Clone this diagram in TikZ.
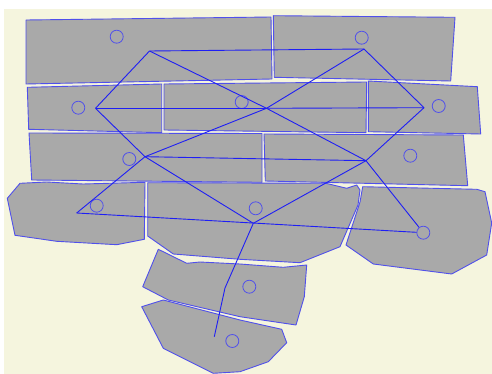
\documentclass[tikz,border=0pt]{standalone}
\usetikzlibrary{calc}
\definecolor{bg}{RGB}{245,245,222}
\definecolor{slab}{RGB}{169,169,169}
\definecolor{edgeblue}{RGB}{80,80,235}
\definecolor{netblue}{RGB}{30,30,245}
\tikzset{
  slabpoly/.style={fill=slab, draw=edgeblue, line width=0.9pt, line join=round},
  marker/.style={circle, draw=edgeblue, line width=0.8pt, minimum size=13pt, inner sep=0pt},
  netline/.style={draw=netblue, line width=0.9pt, line join=round},
}
\begin{document}
\begin{tikzpicture}[x=1pt,y=-1pt]
\useasboundingbox (0,0) rectangle (492,374);
\fill[white] (0,0) rectangle (492,374);
\fill[bg] (4,9) rectangle (492,374);
% slabs
\draw[slabpoly] (26,20) -- (271,17) -- (272,79) -- (26,84) -- cycle;
\draw[slabpoly] (273.3,15.7) -- (455,17.3) -- (450.7,81) -- (274.3,77.3) -- cycle;
\draw[slabpoly] (27.3,87.3) -- (161.7,84) -- (161.7,132.7) -- (28.7,129.3) -- cycle;
\draw[slabpoly] (164,84) -- (366.7,82) -- (366,132.7) -- (164,130) -- cycle;
\draw[slabpoly] (368.3,81) -- (477.3,86.7) -- (480.7,134) -- (368.3,131.7) -- cycle;
\draw[slabpoly] (29,133) -- (262,133.5) -- (262,182.3) -- (31.7,180) -- cycle;
\draw[slabpoly] (264,134) -- (463.3,135) -- (467.7,185.7) -- (265.3,181) -- cycle;
\draw[slabpoly] (7.3,198.3) -- (20,183.3) -- (46.7,182) -- (83,184) -- (145,182.3) -- (144.3,239.3) -- (116.7,244.7) -- (56.7,241.3) -- (15,235.3) -- cycle;
\draw[slabpoly] (147.7,182.7) -- (326,183.3) -- (346.7,188.3) -- (356.7,185) -- (360,190) -- (358,205) -- (340,246.7) -- (300,262.7) -- (240,259.3) -- (173.3,254) -- (147.7,236) -- cycle;
\draw[slabpoly] (362.7,186.7) -- (476.7,189.3) -- (485,191.7) -- (491.7,223) -- (486.7,255) -- (451.7,274) -- (373.3,264) -- (346,245) -- (360,202) -- cycle;
\draw[slabpoly] (158.3,249.3) -- (186.7,263.3) -- (200,262) -- (240,264) -- (283.3,267.3) -- (306.7,265) -- (304.3,296.7) -- (296,325) -- (240,316.7) -- (168.3,300) -- (142.7,286.7) -- cycle;
\draw[slabpoly] (141.7,306.7) -- (163.3,300) -- (240,320) -- (281.7,329.3) -- (286.7,342.7) -- (268.3,361.7) -- (240,371.7) -- (213.3,373.3) -- (163.3,348.3) -- cycle;
% markers
\node[marker] (cA) at (116.7,36.7) {};
\node[marker] (cB) at (361.7,37.7) {};
\node[marker] (cC) at (78.3,107.7) {};
\node[marker] (cD) at (241.7,102) {};
\node[marker] (cE) at (438.7,106) {};
\node[marker] (cF) at (129.3,159) {};
\node[marker] (cG) at (410.3,155.7) {};
\node[marker] (cH) at (96.7,205.7) {};
\node[marker] (cI) at (255.7,208.3) {};
\node[marker] (cJ) at (423.3,232.7) {};
\node[marker] (cK) at (249.3,286.7) {};
\node[marker] (cL) at (232.3,341) {};
% network points
\coordinate (p1) at (149.5,51);
\coordinate (p2) at (364,49);
\coordinate (p3) at (95.5,108.3);
\coordinate (hub) at (266.5,108.3);
\coordinate (p4) at (424,107.7);
\coordinate (p5) at (145,156.7);
\coordinate (p6) at (366,160.7);
\coordinate (p7) at (76.7,213);
\coordinate (p8) at (253.3,223.3);
\coordinate (q1) at (225,288);
\coordinate (p10) at (214.3,336.7);
% network
\draw[netline] (p1) -- (p2);
\draw[netline] (p1) -- (p3);
\draw[netline] (p1) -- (hub);
\draw[netline] (p2) -- (hub);
\draw[netline] (p2) -- (p4);
\draw[netline] (p3) -- (hub);
\draw[netline] (hub) -- (p4);
\draw[netline] (p3) -- (p5);
\draw[netline] (p4) -- (p6);
\draw[netline] (hub) -- (p5);
\draw[netline] (hub) -- (p6);
\draw[netline] (p5) -- (p6);
\draw[netline] (p5) -- (p7);
\draw[netline] (p5) -- (p8);
\draw[netline] (p6) -- (p8);
\draw[netline] (p6) -- (cJ);
\draw[netline] (p7) -- (cJ);
\draw[netline] (p8) -- (q1) -- (p10);
\end{tikzpicture}
\end{document}
